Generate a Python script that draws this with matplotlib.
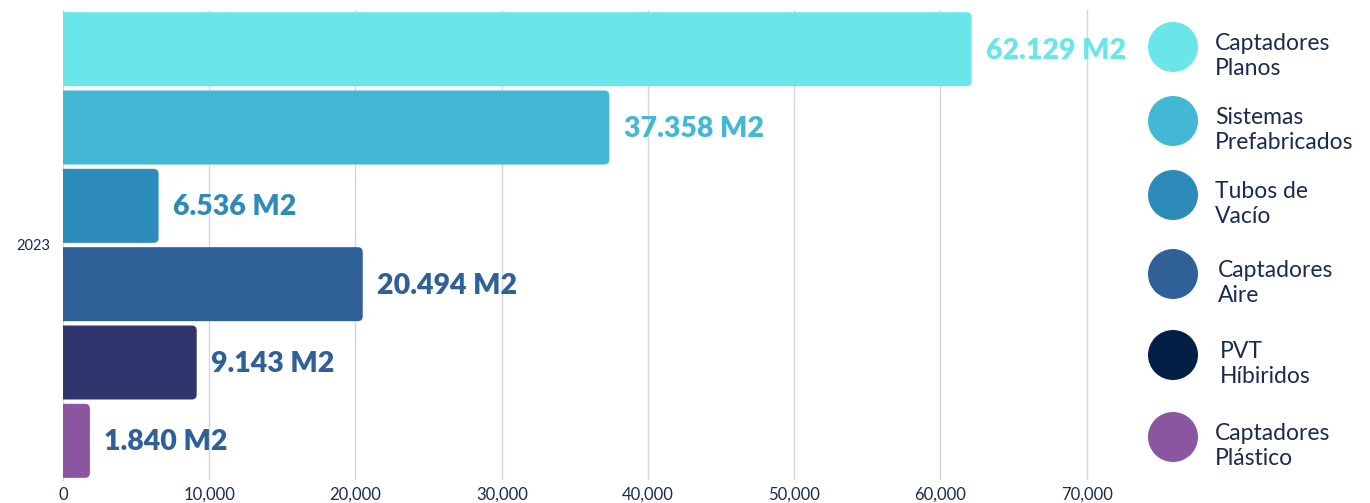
import matplotlib
matplotlib.use("Agg")
import matplotlib.pyplot as plt
from matplotlib.patches import FancyBboxPatch, Circle

plt.rcParams["font.family"] = ["Lato", "DejaVu Sans"]

# data
categories = ["Captadores\nPlanos", "Sistemas\nPrefabricados", "Tubos de\nVacío",
              "Captadores\nAire", "PVT\nHíbiridos", "Captadores\nPlástico"]
values = [62129, 37358, 6536, 20494, 9143, 1840]
value_labels = ["62.129 M2", "37.358 M2", "6.536 M2", "20.494 M2", "9.143 M2", "1.840 M2"]
year_label = "2023"
xticks = [0, 10000, 20000, 30000, 40000, 50000, 60000, 70000]

bar_colors = ["#6AE6E9", "#42B8D5", "#2D8BBA", "#2F6097", "#31356E", "#8C55A0"]
label_colors = ["#6AE6E9", "#42B8D5", "#2D8BBA", "#2F6097", "#2F6097", "#2F6097"]
legend_colors = ["#6AE6E9", "#42B8D5", "#2D8BBA", "#2F6097", "#031F45", "#8C55A0"]
TEXT = "#1B2A4E"

W, H = 1370, 503
fig = plt.figure(figsize=(W / 100, H / 100), dpi=100)
x0, x1, y0, y1 = 63, 1116, 10, 480
ax = fig.add_axes([x0 / W, 1 - y1 / H, (x1 - x0) / W, (y1 - y0) / H])
xmax = 72000
ax.set_xlim(0, xmax)
ax.set_ylim(-0.5, 5.5)

px_x = xmax / (x1 - x0)      # data units per pixel, x
px_y = 6 / (y1 - y0)         # data units per pixel, y
bh = 74 * px_y
r = 5 * px_x

n = len(values)
for i, (v, c) in enumerate(zip(values, bar_colors)):
    y = n - 1 - i
    # start left of the axis so the rounded left corners get clipped away
    ax.add_patch(FancyBboxPatch((-3 * r, y - bh / 2), v + 3 * r, bh,
                                boxstyle=f"round,pad=0,rounding_size={r}",
                                mutation_aspect=px_y / px_x,
                                fc=c, ec="none", zorder=2))
    ax.annotate(value_labels[i], (v, y), xytext=(10.5, -1), textcoords="offset points",
                va="center", ha="left", fontsize=20.5, fontweight="heavy",
                color=label_colors[i], annotation_clip=False, zorder=3)

ax.set_xticks(xticks)
ax.set_xticklabels([f"{t:,}" for t in xticks], fontsize=12, color=TEXT)
ax.set_yticks([2.5])
ax.set_yticklabels([year_label], fontsize=10.5, color=TEXT)
ax.tick_params(axis="x", length=0, pad=5)
ax.tick_params(axis="y", length=0, pad=9)
ax.grid(axis="x", color="#D3D6DF", lw=1, zorder=0)
for s in ["top", "right", "bottom"]:
    ax.spines[s].set_visible(False)
ax.spines["left"].set_color("#D3D6DF")
ax.spines["left"].set_zorder(1)

# legend
lax = fig.add_axes([0, 0, 1, 1], facecolor="none")
lax.set_xlim(0, W)
lax.set_ylim(H, 0)
lax.axis("off")
circle_y = [47, 121, 195, 274, 355, 437]
text_x = [1215, 1215, 1215, 1218, 1220, 1215]
for i, lab in enumerate(categories):
    lax.add_patch(Circle((1173, circle_y[i]), 25, color=legend_colors[i], lw=0))
    lax.text(text_x[i], circle_y[i] + 9, lab, fontsize=16.5, color=TEXT,
             va="center", ha="left", linespacing=1.25)

fig.savefig("out.png", dpi=100)
